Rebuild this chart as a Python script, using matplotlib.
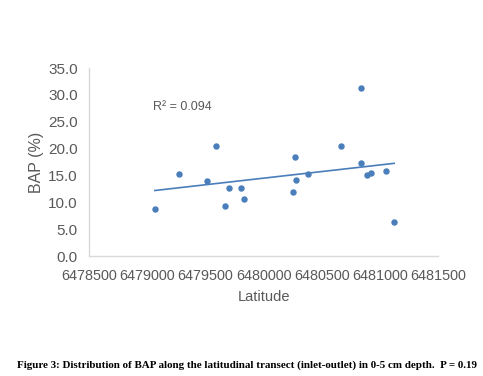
import numpy as np
import matplotlib.pyplot as plt

## BAP values along the latitudinal transect (0-5 cm) ##
latitude = [6479066, 6479277, 6479511, 6479589, 6479668, 6479703, 6479805,
            6479831, 6480257, 6480268, 6480283, 6480383, 6480663, 6480840,
            6480842, 6480891, 6480926, 6481057, 6481123]
bap = [8.8, 15.2, 14.0, 20.5, 9.4, 12.6, 12.7, 10.6, 12.0, 18.4, 14.1,
       15.3, 20.5, 31.3, 17.3, 15.1, 15.4, 15.8, 6.3]
x_ticks = [6478500, 6479000, 6479500, 6480000, 6480500, 6481000, 6481500]
y_ticks = [0, 5, 10, 15, 20, 25, 30, 35]
r2_label = "R² = 0.094"
caption = ("Figure 3: Distribution of BAP along the latitudinal transect "
           "(inlet-outlet) in 0-5 cm depth.  P = 0.19")

plt.rcParams["font.family"] = ["Liberation Sans", "DejaVu Sans"]
blue = "#4a7ebb"
grey = "#595959"

fig = plt.figure(figsize=(4.83, 3.76), dpi=100)
ax = fig.add_axes([0.1843, 0.319, 0.7226, 0.5])

ax.scatter(latitude, bap, s=13, color=blue, zorder=3)

# linear trendline
coef = np.polyfit(latitude, bap, 1)
xl = np.array([min(latitude), max(latitude)])
ax.plot(xl, np.polyval(coef, xl), color=blue, lw=1.2)

ax.set_xlim(x_ticks[0], x_ticks[-1])
ax.set_ylim(y_ticks[0], y_ticks[-1])
ax.set_xticks(x_ticks)
ax.set_xticklabels([str(v) for v in x_ticks])
ax.set_yticks(y_ticks)
ax.set_yticklabels(["%.1f" % v for v in y_ticks])
ax.tick_params(axis="x", length=0, pad=9, labelsize=10.4, labelcolor=grey)
ax.tick_params(axis="y", length=0, pad=8, labelsize=11, labelcolor=grey)

for s in ["top", "right"]:
    ax.spines[s].set_visible(False)
for s in ["left", "bottom"]:
    ax.spines[s].set_color("#d9d9d9")
    ax.spines[s].set_linewidth(1.0)

ax.set_xlabel("Latitude", fontsize=10.5, color=grey, labelpad=5)
ax.set_ylabel("BAP (%)", fontsize=11.5, color=grey, labelpad=3)

ax.text(6479050, 27.7, r2_label, fontsize=9, color=grey, va="center")

fig.text(0.511, 1 - 365 / 376, caption, ha="center", va="center",
         family="Liberation Serif", fontweight="bold", fontsize=7.9)

fig.savefig("out.png", dpi=100)
